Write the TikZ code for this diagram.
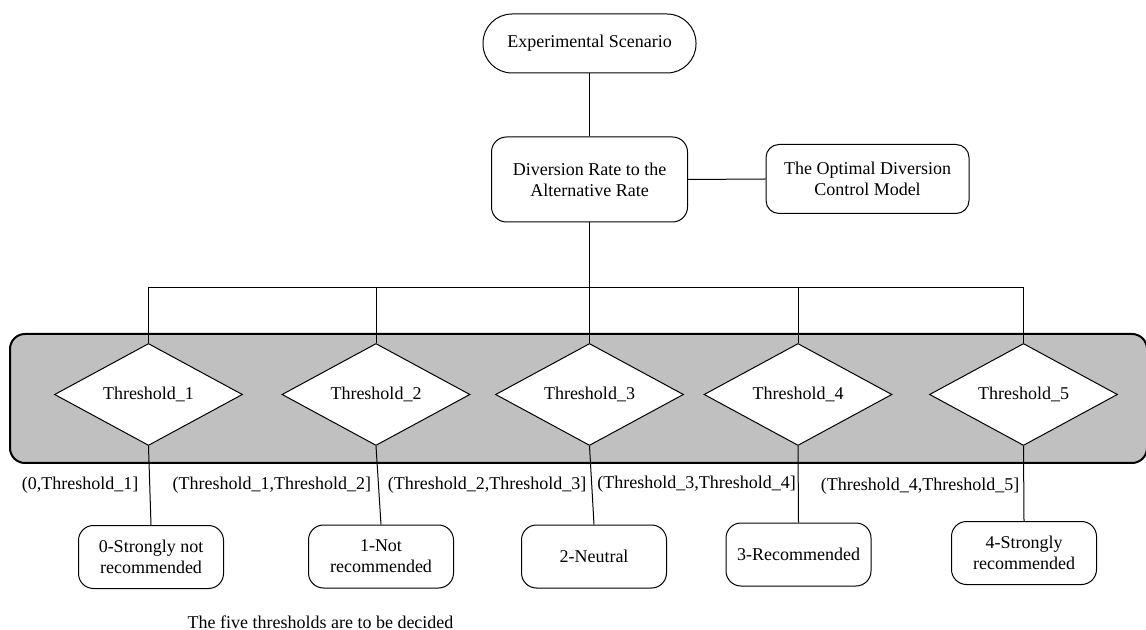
\documentclass[tikz,border=0pt]{standalone}
\usepackage{fontspec}
\setmainfont{Liberation Serif}
\usepackage{xcolor}
\usepackage{tikz}
\usetikzlibrary{shapes.geometric, shapes.misc}
\definecolor{panel gray}{RGB}{192,192,192}
\tikzset{
scenario/.style = { rectangle, draw = black, fill = white, minimum width = 106.5pt, minimum height = 29.5pt, rounded corners = 14.5pt, inner sep = 0pt },
model/.style = { rectangle, draw = black, fill = white, align = center, rounded corners = 7.5pt, inner sep = 0pt },
threshold/.style = { diamond, draw = black, fill = white, minimum width = 94pt, minimum height = 51pt, shape aspect = 1.84, inner sep = 0pt },
rating/.style = { rectangle, draw = black, fill = white, align = center, minimum width = 72.5pt, minimum height = 31.5pt, rounded corners = 7.5pt, inner sep = 0pt },
interval/.style = { left = 0pt, inner sep = 2pt, fill = none },
}

\begin{document}
\begin{tikzpicture}[x = 0.5pt, y = -0.5pt, line width = 0.5pt, every node/.style = { font = \fontsize{9}{10.5}\selectfont }]
    \useasboundingbox (0, 0) rectangle (1146, 630);
    % grey panel behind the thresholds
    \path[draw = black, fill = panel gray, line width = 1pt, rounded corners = 7.5pt] (10, 334) rectangle (1147, 463);
    \node[scenario] (exp) at (589.5, 43.5) {Experimental Scenario};
    \node[model, minimum width = 98pt, minimum height = 42.5pt] (div) at (589.5, 179.5) {Diversion Rate to the\\Alternative Rate};
    \node[model, minimum width = 101.5pt, minimum height = 34.5pt, rounded corners = 6.5pt] (opt) at (867.5, 179) {The Optimal Diversion\\Control Model};
    \node[threshold] (t1) at (148.5, 394.5) {Threshold\_1};
    \node[threshold] (t2) at (376, 394.5) {Threshold\_2};
    \node[threshold] (t3) at (589.5, 394.5) {Threshold\_3};
    \node[threshold] (t4) at (798, 394.5) {Threshold\_4};
    \node[threshold] (t5) at (1023.5, 394.5) {Threshold\_5};
    \node[rating] (r0) at (151, 557) {0-Strongly not\\recommended};
    \node[rating] (r1) at (381, 556.5) {1-Not\\recommended};
    \node[rating] (r2) at (594, 556.5) {2-Neutral};
    \node[rating] (r3) at (798.5, 554.5) {3-Recommended};
    \node[rating] (r4) at (1024, 553) {4-Strongly\\recommended};
    \node (note) at (320.5, 622) {The five thresholds are to be decided};
    \coordinate (bus) at (589.5, 287.5);
    \draw (exp.south) -- (div.north);
    \draw (div.east) -- (opt.west);
    \draw (div.south) -- (bus);
    \draw (t1.north) |- (bus) -| (t5.north);
    \draw (t2.north) -- (t2.north |- bus);
    \draw (t3.north) -- (bus);
    \draw (t4.north) -- (t4.north |- bus);
    \draw (t1.south) -- (r0.north) node[interval, midway, xshift = -3.5pt] {(0,Threshold\_1]};
    \draw (t2.south) -- (r1.north) node[interval, midway, xshift = -1.5pt] {(Threshold\_1,Threshold\_2]};
    \draw (t3.south) -- (r2.north) node[interval, midway, xshift = -0.5pt] {(Threshold\_2,Threshold\_3]};
    \draw (t4.south) -- (r3.north) node[interval, midway, xshift = 1pt] {(Threshold\_3,Threshold\_4]};
    \draw (t5.south) -- (r4.north) node[interval, midway, yshift = -1.5pt] {(Threshold\_4,Threshold\_5]};
\end{tikzpicture}
\end{document}
